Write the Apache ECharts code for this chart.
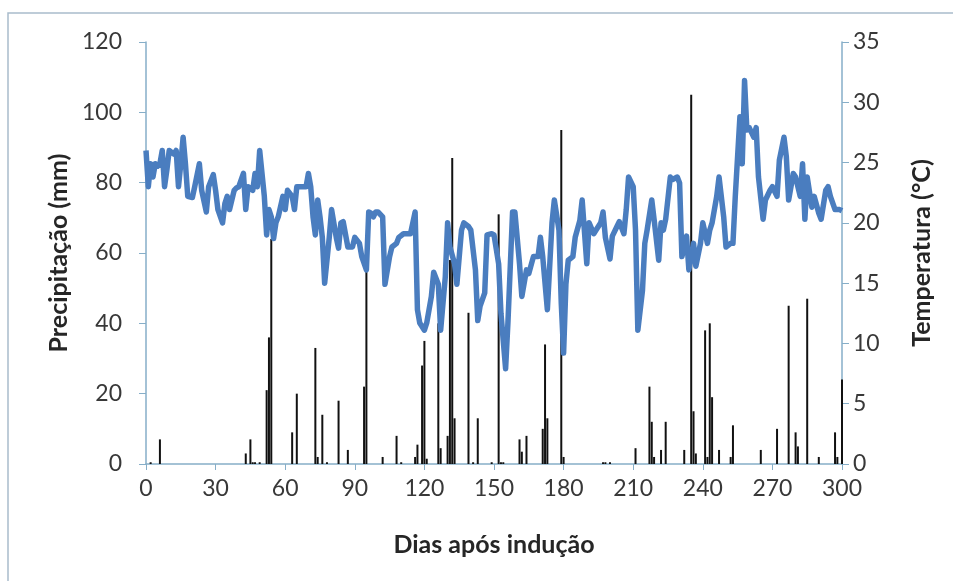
<!DOCTYPE html>
<html>
<head>
<meta charset="utf-8">
<script src="https://cdn.jsdelivr.net/npm/echarts@6/dist/echarts.min.js"></script>
<style>
  html, body { margin: 0; padding: 0; background: #fff; }
  #chart { width: 953px; height: 581px; }
</style>
</head>
<body>
<div id="chart"></div>
<script>
// Precipitation bars (day, mm)
const rainDays = [2,6,43,45,46,47,49,52,53,54,63,65,73,74,76,78,83,87,94,95,102,108,110,116,117,119,120,121,126,127,130,131,132,133,139,141,143,149,152,153,154,161,162,164,171,172,173,179,180,197,198,200,211,217,218,219,222,224,232,235,236,237,241,242,243,244,247,252,253,265,272,277,280,281,285,290,297,298,300];
const rainValues = [0.5,7,3,7,0.5,0.5,0.5,21,36,64,9,20,33,2,14,0.5,18,4,22,56,2,8,0.5,2,5.5,28,35,1.5,40,4.5,8,58,87,13,43,0.5,13,0.5,71,0.5,0.5,7,3.5,8,10,34,13,95,2,0.5,0.5,0.5,4.5,22,12,2,4,12,4,105,15,3,38,2,40,19,4,2,11,4,10,45,9,5,47,2,9,2,24];

// Temperature line (day, °C)
const tempDays = [0,1,2,3,4,5,6,7,8,9,10,12,13,14,15,16,17,18,20,21,23,24,26,27,29,30,31,33,34,35,36,38,39,40,42,43,44,46,47,48,49,51,52,53,54,55,56,57,59,60,61,63,64,65,67,69,70,71,72,73,74,75,76,77,79,80,82,83,84,85,87,89,90,92,93,95,96,97,98,99,100,102,103,105,106,108,109,111,114,116,117,118,120,121,123,124,126,127,129,130,131,133,134,136,137,139,140,142,143,144,146,147,149,150,152,153,155,156,158,159,161,162,164,165,167,169,170,171,173,175,176,178,179,180,181,182,184,185,187,188,190,191,193,194,196,197,198,200,201,203,204,206,207,208,210,211,212,214,215,216,218,219,221,222,223,224,226,227,229,230,231,233,234,236,237,239,240,242,243,244,246,247,249,250,252,253,254,256,257,258,259,260,262,263,264,266,267,269,270,272,273,275,276,277,279,280,282,283,284,285,287,288,290,291,293,294,295,297,299,300];
const tempValues = [26.0,23.0,24.9,23.8,24.9,24.7,24.9,26.0,23.0,24.4,26.0,25.7,26.0,23.0,24.9,27.1,24.9,22.2,22.1,23.0,24.9,22.7,20.9,23.0,24.0,22.7,21.1,20.0,21.6,22.2,21.1,22.7,22.9,23.0,24.1,21.1,23.0,22.7,24.1,23.0,26.0,22.2,19.0,21.1,20.5,18.7,20.0,20.5,22.2,21.1,22.7,22.2,21.1,23.0,23.0,23.0,24.1,23.0,20.5,19.0,21.9,20.5,18.8,15.0,18.8,21.1,18.8,17.9,20.0,20.1,18.0,18.0,18.8,18.3,17.2,16.1,20.9,20.8,20.5,20.9,20.9,20.5,14.9,17.2,18.0,18.3,18.8,19.1,19.1,20.9,12.8,11.7,11.1,11.7,13.9,15.9,14.9,11.1,15.5,20.0,18.0,16.6,14.9,19.4,20.0,19.7,19.4,16.1,11.9,13.1,14.2,19.0,19.1,19.0,16.6,12.5,7.9,11.7,20.9,20.9,16.6,13.9,16.1,15.8,17.2,17.2,18.8,17.2,12.8,20.0,21.9,19.4,13.3,9.2,14.9,16.9,17.2,18.8,20.2,21.9,16.6,20.0,19.1,19.4,20.0,20.9,18.8,17.0,18.9,19.7,20.1,19.1,21.1,23.8,23.0,19.4,11.1,14.4,18.3,19.4,21.9,20.3,16.9,20.0,19.4,20.3,23.8,23.6,23.8,23.3,17.2,18.9,16.1,18.3,16.4,18.3,20.0,18.3,19.4,20.0,22.2,23.8,20.5,18.0,18.3,18.3,22.2,28.8,24.9,31.8,27.7,27.9,27.1,27.9,23.8,20.3,21.9,22.7,23.0,22.2,25.2,27.1,25.5,21.9,24.1,23.8,22.2,24.9,20.3,23.8,21.3,22.2,20.8,20.3,22.7,23.0,22.2,21.1,21.1,21.0];

const xTicks = [0,30,60,90,120,150,180,210,240,270,300];
const leftTicks = [0,20,40,60,80,100,120];
const rightTicks = [0,5,10,15,20,25,30,35];

const xLabel = 'Dias após indução';
const leftLabel = 'Precipitação (mm)';
const rightLabel = 'Temperatura (°C)';

const rainData = rainDays.map((d, i) => [d, rainValues[i]]);
const tempData = tempDays.map((d, i) => [d, tempValues[i]]);

const FONT = 'Lato';
const axisColor = '#86aec8';
const textColor = '#383838';
const titleStyle = { fontFamily: FONT, fontWeight: 'bold', fontSize: 25, color: '#262626' };

const chart = echarts.init(document.getElementById('chart'), null, { renderer: 'canvas' });
chart.setOption({
  backgroundColor: '#ffffff',
  animation: false,
  graphic: [{
    type: 'rect',
    shape: { x: 8, y: 13, width: 1000, height: 1000 },
    style: { fill: 'none', stroke: '#a9bccb', lineWidth: 1.5 },
    silent: true
  }],
  grid: { left: 146, right: 111, top: 42, bottom: 117, containLabel: false },
  xAxis: {
    type: 'value',
    min: xTicks[0], max: xTicks[xTicks.length - 1], interval: 30,
    name: xLabel, nameLocation: 'middle', nameGap: 68,
    nameTextStyle: titleStyle,
    axisLine: { show: true, onZero: false, lineStyle: { color: axisColor, width: 1.5 } },
    axisTick: { show: true, length: 6, lineStyle: { color: axisColor } },
    axisLabel: { fontFamily: FONT, fontSize: 23, color: textColor, margin: 13 },
    splitLine: { show: false }
  },
  yAxis: [{
    type: 'value', position: 'left',
    min: leftTicks[0], max: leftTicks[leftTicks.length - 1], interval: 20,
    name: leftLabel, nameLocation: 'middle', nameRotate: 90, nameGap: 70,
    nameTextStyle: titleStyle,
    axisLine: { show: true, lineStyle: { color: axisColor, width: 1.5 } },
    axisTick: { show: true, length: 7, lineStyle: { color: axisColor } },
    axisLabel: { fontFamily: FONT, fontSize: 23, color: textColor, margin: 24 },
    splitLine: { show: false }
  }, {
    type: 'value', position: 'right',
    min: rightTicks[0], max: rightTicks[rightTicks.length - 1], interval: 5,
    name: rightLabel, nameLocation: 'middle', nameRotate: 90, nameGap: 67,
    nameTextStyle: titleStyle,
    axisLine: { show: true, lineStyle: { color: axisColor, width: 1.5 } },
    axisTick: { show: true, length: 7, lineStyle: { color: axisColor } },
    axisLabel: { fontFamily: FONT, fontSize: 23, color: textColor, margin: 11 },
    splitLine: { show: false }
  }],
  series: [{
    name: leftLabel,
    type: 'bar',
    yAxisIndex: 0,
    data: rainData,
    barWidth: 2,
    itemStyle: { color: '#111111' },
    z: 2
  }, {
    name: rightLabel,
    type: 'line',
    yAxisIndex: 1,
    data: tempData,
    showSymbol: false,
    symbol: 'none',
    lineStyle: { color: '#4a7dbf', width: 5.5, join: 'round' },
    z: 3
  }]
});
</script>
</body>
</html>
